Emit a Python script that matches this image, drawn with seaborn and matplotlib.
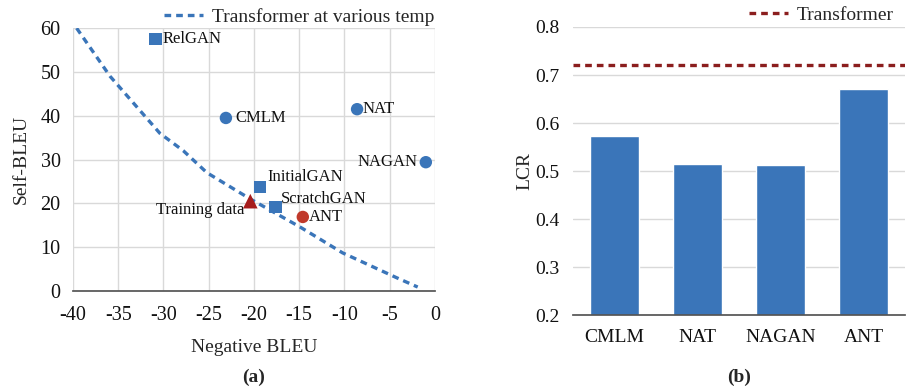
import numpy as np
import pandas as pd
import seaborn as sns
import matplotlib.pyplot as plt

# (a) pontos dos modelos
modelos = ['RelGAN', 'CMLM', 'NAT', 'NAGAN', 'InitialGAN', 'ScratchGAN', 'Training data', 'ANT']
neg_bleu = [-30.9, -23.1, -8.6, -1.0, -19.3, -17.6, -20.4, -14.6]
self_bleu = [57.5, 39.5, 41.5, 29.4, 23.7, 19.2, 20.5, 16.9]
tipos = ['gan', 'nat', 'nat', 'nat', 'gan', 'gan', 'data', 'ant']

# curva do transformer em varias temperaturas
curva_x = [-39.6, -35.9, -30.4, -27.8, -25.2, -20.4, -14.9, -10.2, -4.2, -1.9]
curva_y = [60.0, 49.0, 36.0, 32.0, 27.0, 21.0, 14.6, 8.7, 3.0, 0.9]

# (b) LCR
categorias = ['CMLM', 'NAT', 'NAGAN', 'ANT']
lcr = [0.572, 0.515, 0.512, 0.670]
lcr_transformer = 0.721

azul = '#3A75B9'
vermelho = '#C0392B'
vinho = '#8B1E1E'

sns.set_theme(style='whitegrid')
plt.rcParams['font.family'] = ['Liberation Serif', 'DejaVu Serif']
plt.rcParams['axes.unicode_minus'] = False

fig = plt.figure(figsize=(9.06, 3.91), dpi=100)
ax1 = fig.add_axes([0.0806, 0.2558, 0.3994, 0.6722])
ax2 = fig.add_axes([0.6325, 0.194, 0.3665, 0.737])

# ---------- (a)
sns.lineplot(x=curva_x, y=curva_y, ax=ax1, color=azul, lw=2.4, linestyle=(0, (2.0, 1.5)),
             label='Transformer at various temp')

df = pd.DataFrame({'x': neg_bleu, 'y': self_bleu, 'tipo': tipos, 'nome': modelos})
estilo = {'gan': ('s', azul, 80), 'nat': ('o', azul, 80), 'data': ('^', '#A61C1C', 110), 'ant': ('o', vermelho, 80)}
for t, (m, c, s) in estilo.items():
    sub = df[df.tipo == t]
    sns.scatterplot(data=sub, x='x', y='y', ax=ax1, marker=m, color=c, s=s, edgecolor='none', zorder=5)

offsets = {'RelGAN': (5, 0, 'left', 'center'), 'CMLM': (7, 0, 'left', 'center'),
           'NAT': (4, 0, 'left', 'center'), 'NAGAN': (-6, 0, 'right', 'center'),
           'InitialGAN': (5, 7, 'left', 'center'), 'ScratchGAN': (4, 6, 'left', 'center'),
           'Training data': (-4, -6, 'right', 'center'), 'ANT': (4, 0, 'left', 'center')}
for nome, x, y in zip(modelos, neg_bleu, self_bleu):
    dx, dy, ha, va = offsets[nome]
    ax1.annotate(nome, (x, y), xytext=(dx, dy), textcoords='offset points', ha=ha, va=va,
                 fontsize=12, color='#111111')

ax1.set_xlim(-40, 0)
ax1.set_ylim(0, 60)
ax1.set_xticks(range(-40, 1, 5))
ax1.set_yticks(range(0, 61, 10))
ax1.grid(True, color='#D9D9D9', lw=1)
for s in ['top', 'right', 'left']:
    ax1.spines[s].set_visible(False)
ax1.spines['bottom'].set_color('#555555')
ax1.tick_params(labelsize=14.5, colors='#111111', length=0)
ax1.tick_params(axis='x', pad=11)
ax1.tick_params(axis='y', pad=9)
ax1.set_xlabel('Negative BLEU', fontsize=14, labelpad=10)
ax1.set_ylabel('Self-BLEU', fontsize=14, labelpad=8)
ax1.legend(loc='lower right', bbox_to_anchor=(1.02, 0.98), frameon=False, fontsize=14,
           handlelength=2.0, borderaxespad=0, handletextpad=0.45)
ax1.text(0.5, -0.327, '(a)', transform=ax1.transAxes, ha='center', va='center', fontsize=14, fontweight='bold')

# ---------- (b)
sns.barplot(x=categorias, y=lcr, ax=ax2, color=azul, width=0.59, saturation=1)
ax2.axhline(lcr_transformer, color=vinho, lw=2.4, linestyle=(0, (2.0, 1.5)), label='Transformer')
ax2.set_ylim(0.2, 0.8)
ax2.set_yticks(np.arange(0.2, 0.81, 0.1))
ax2.set_yticklabels([f'{v:.1f}' for v in np.arange(0.2, 0.81, 0.1)])
ax2.set_xlim(-0.5, 3.5)
ax2.grid(True, axis='y', color='#D9D9D9', lw=1)
ax2.grid(False, axis='x')
for s in ['top', 'right', 'left']:
    ax2.spines[s].set_visible(False)
ax2.spines['bottom'].set_color('#555555')
ax2.tick_params(labelsize=14, colors='#111111', pad=10, length=0)
ax2.set_ylabel('LCR', fontsize=14, labelpad=1)
ax2.legend(loc='lower right', bbox_to_anchor=(0.99, 0.985), frameon=False, fontsize=14,
           handlelength=2.0, borderaxespad=0, handletextpad=0.45)
ax2.text(0.5, -0.215, '(b)', transform=ax2.transAxes, ha='center', va='center', fontsize=14, fontweight='bold')

fig.savefig('out.png', dpi=100)
